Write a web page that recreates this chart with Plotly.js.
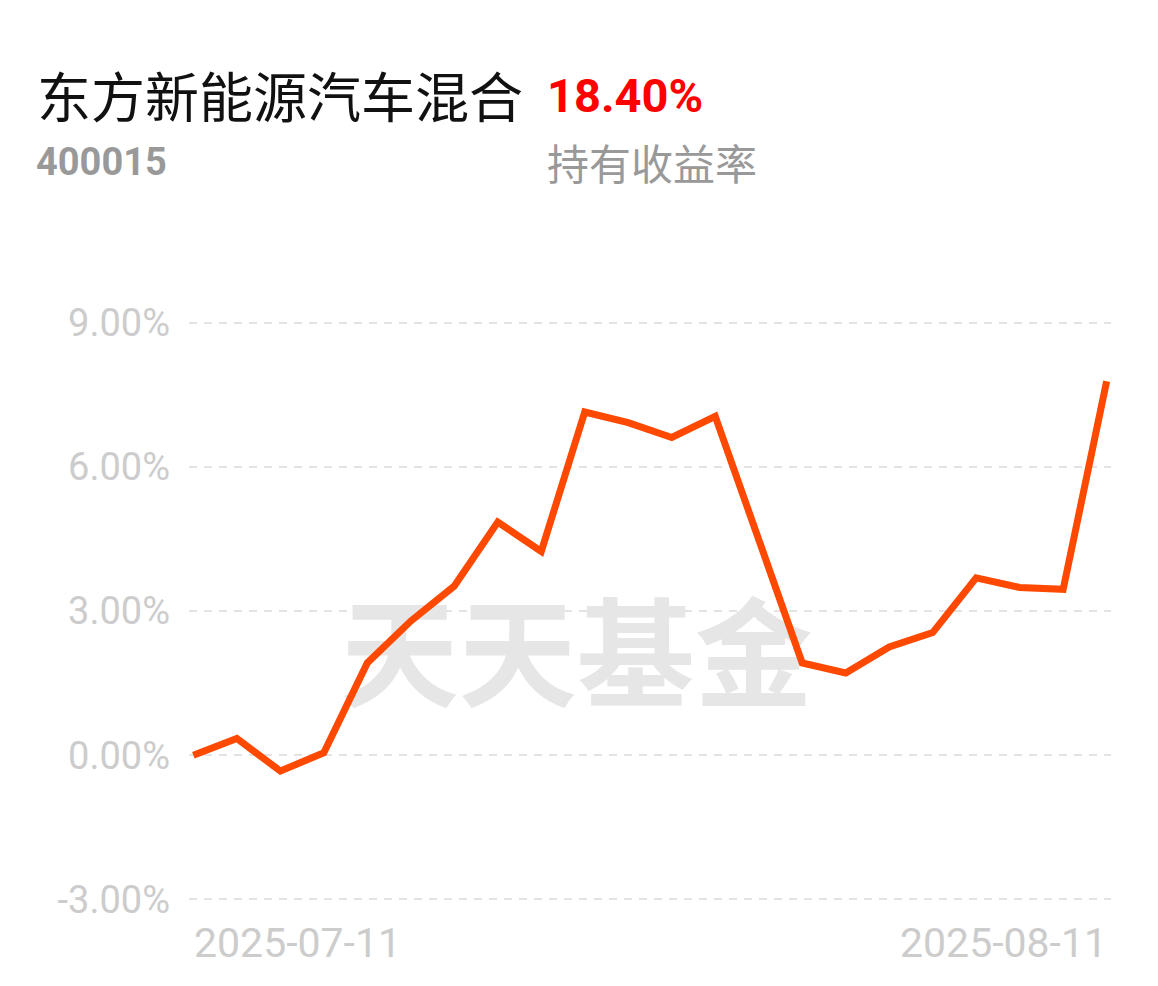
<!DOCTYPE html>
<html>
<head>
<meta charset="utf-8">
<script src="https://cdn.plot.ly/plotly-3.0.1.min.js"></script>
<style>
html,body{margin:0;padding:0;background:#fff;}
#chart{width:1158px;height:986px;}
</style>
</head>
<body>
<div id="chart"></div>
<script>
const fundName = "东方新能源汽车混合";
const fundCode = "400015";
const holdReturn = "18.40%";
const holdReturnLabel = "持有收益率";
const watermark = "天天基金";

const dates = [
  "2025-07-11","2025-07-14","2025-07-15","2025-07-16","2025-07-17","2025-07-18",
  "2025-07-21","2025-07-22","2025-07-23","2025-07-24","2025-07-25",
  "2025-07-28","2025-07-29","2025-07-30","2025-07-31","2025-08-01",
  "2025-08-04","2025-08-05","2025-08-06","2025-08-07","2025-08-08","2025-08-11"
];
const returns = [
  0.00, 0.35, -0.33, 0.05, 1.92, 2.79,
  3.52, 4.85, 4.24, 7.14, 6.92,
  6.61, 7.05, 4.50, 1.92, 1.71,
  2.25, 2.55, 3.69, 3.49, 3.45, 7.78
];
const yTicks = [-3, 0, 3, 6, 9];
const yTickLabels = ["-3.00%", "0.00%", "3.00%", "6.00%", "9.00%"];

const tickFont = {family: "Roboto, 'Noto Sans', sans-serif", size: 38, color: "#cccccc"};
const dateFont = {family: "Roboto, 'Noto Sans', sans-serif", size: 41, color: "#cccccc"};

const traces = [
  {
    x: [dates[9]], y: [1.8],
    mode: "text", type: "scatter",
    text: [watermark],
    textposition: "middle center",
    textfont: {family: "'Noto Sans CJK SC', sans-serif", size: 118, color: "#e6e6e6", weight: 700},
    hoverinfo: "skip", showlegend: false, cliponaxis: false
  },
  {
    x: dates, y: returns,
    mode: "lines", type: "scatter",
    line: {color: "#ff4800", width: 7, shape: "linear"},
    hoverinfo: "skip", showlegend: false
  }
];

const L = 189, R = 47, T = 313, B = 77, W = 1158, H = 986;
const plotH = H - T - B, plotW = W - L - R;
function px(xp){return (xp - L) / plotW;}
function py(yp){return (H - B - yp) / plotH;}

const layout = {
  width: W, height: H,
  paper_bgcolor: "#ffffff", plot_bgcolor: "#ffffff",
  margin: {l: L, r: R, t: T, b: B},
  showlegend: false,
  xaxis: {
    type: "category",
    categoryorder: "array", categoryarray: dates,
    range: [-0.1, dates.length - 1 + 0.1],
    showgrid: false, zeroline: false, showline: false,
    showticklabels: false, ticks: "", fixedrange: true
  },
  yaxis: {
    range: [-3.2, 9.2],
    tickvals: yTicks, ticktext: yTickLabels,
    showgrid: true, gridcolor: "#e3e3e3", gridwidth: 2, griddash: "8px,7px",
    zeroline: false, showline: false, ticks: "",
    tickfont: tickFont, ticklabelstandoff: 18, fixedrange: true
  },
  annotations: [
    {text: fundName, xref: "paper", yref: "paper", x: px(35), y: py(94),
     xanchor: "left", yanchor: "middle", showarrow: false,
     font: {family: "'Noto Sans CJK SC', sans-serif", size: 54, color: "#111111"}},
    {text: holdReturn, xref: "paper", yref: "paper", x: px(545), y: py(95),
     xanchor: "left", yanchor: "middle", showarrow: false,
     font: {family: "Roboto, sans-serif", size: 47, color: "#ff0000", weight: 700}},
    {text: fundCode, xref: "paper", yref: "paper", x: px(34), y: py(162),
     xanchor: "left", yanchor: "middle", showarrow: false,
     font: {family: "Roboto, sans-serif", size: 38, color: "#999999", weight: 700}},
    {text: holdReturnLabel, xref: "paper", yref: "paper", x: px(545), y: py(162),
     xanchor: "left", yanchor: "middle", showarrow: false,
     font: {family: "'Noto Sans CJK SC', sans-serif", size: 42, color: "#999999"}},
    {text: dates[0], xref: "x", yref: "paper", x: dates[0], y: py(943),
     xanchor: "left", yanchor: "middle", showarrow: false, font: dateFont, xshift: -1},
    {text: dates[dates.length - 1], xref: "x", yref: "paper", x: dates[dates.length - 1], y: py(943),
     xanchor: "right", yanchor: "middle", showarrow: false, font: dateFont, xshift: 2}
  ]
};
layout.annotations.forEach(a => {});
traces[0].textfont.size = 118;

Plotly.newPlot("chart", traces, layout, {displayModeBar: false, staticPlot: true}).then(() => {
  // nudge watermark slightly left to match reference placement
  const t = document.querySelector(".textpoint text");
  if (t) t.setAttribute("x", parseFloat(t.getAttribute("x")) - 8);
});
</script>
</body>
</html>
